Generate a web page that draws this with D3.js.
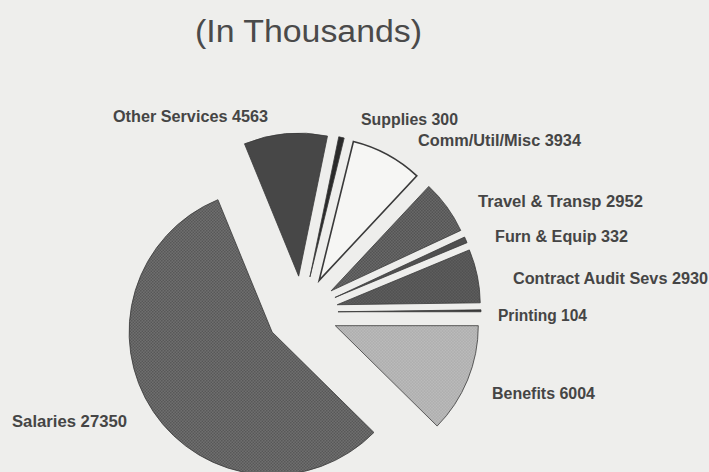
<!DOCTYPE html>
<html>
<head>
<meta charset="utf-8">
<script src="https://cdn.jsdelivr.net/npm/d3@7"></script>
<style>
  html, body { margin: 0; padding: 0; background: #eeeeec; }
  svg { display: block; }
</style>
</head>
<body>
<svg id="chart" width="709" height="472"></svg>
<script>
// ---- data (clockwise from 3 o'clock) ----
const categories = ["Benefits", "Salaries", "Other Services", "Supplies", "Comm/Util/Misc",
                    "Travel & Transp", "Furn & Equip", "Contract Audit Sevs", "Printing"];
const values = [6004, 27350, 4563, 300, 3934, 2952, 332, 2930, 104];
const title = "(In Thousands)";

// ---- styling / layout (kept separate from the data) ----
const fills = ["url(#pLight)", "url(#pSal)", "#474747", "#2a2a2a", "#f6f6f4",
               "url(#pMid)", "#505050", "url(#pMid2)", "#3a3a3a"];
const labelLayout = [ // x start, baseline, width
  [492, 399, 103], [12, 427, 115], [113, 122, 155], [361, 125, 97], [418, 146, 163],
  [478, 207, 165], [495, 242, 133], [513, 284, 195], [498, 321, 89]
];

const W = 709, H = 472;
const cx = 302, cy = 312, R = 143, explode = 36;

const svg = d3.select("#chart");
svg.append("rect").attr("width", W).attr("height", H).attr("fill", "#eeeeec");

// textures
const defs = svg.append("defs");
function dotPattern(id, bg, dot) {
  const p = defs.append("pattern").attr("id", id).attr("width", 3).attr("height", 3)
    .attr("patternUnits", "userSpaceOnUse");
  p.append("rect").attr("width", 3).attr("height", 3).attr("fill", bg);
  p.append("rect").attr("x", 0).attr("y", 0).attr("width", 1.5).attr("height", 1.5).attr("fill", dot);
  p.append("rect").attr("x", 1.5).attr("y", 1.5).attr("width", 1.5).attr("height", 1.5).attr("fill", dot);
}
dotPattern("pSal", "#727272", "#555555");
dotPattern("pLight", "#c4c4c4", "#a4a4a4");
dotPattern("pMid", "#6e6e6e", "#4e4e4e");
dotPattern("pMid2", "#666666", "#484848");

const pie = d3.pie().sort(null).value(d => d)
  .startAngle(Math.PI / 2).endAngle(Math.PI / 2 + 2 * Math.PI);
const arcs = pie(values);
const arc = d3.arc().innerRadius(0).outerRadius(R);

const g = svg.append("g").attr("transform", `translate(${cx},${cy})`);
g.selectAll("path").data(arcs).join("path")
  .attr("d", arc)
  .attr("transform", d => {
    const a = (d.startAngle + d.endAngle) / 2;
    return `translate(${explode * Math.sin(a)},${-explode * Math.cos(a)})`;
  })
  .attr("fill", (d, i) => fills[i])
  .attr("stroke", "#3a3a3a")
  .attr("stroke-width", (d, i) => categories[i] === "Comm/Util/Misc" ? 1.6 : 0.8)
  .attr("stroke-linejoin", "miter");

// title
svg.append("text")
  .attr("x", 195).attr("y", 42)
  .attr("textLength", 227).attr("lengthAdjust", "spacingAndGlyphs")
  .attr("font-family", "Liberation Sans, Arial, sans-serif")
  .attr("font-size", 31).attr("fill", "#4a4a4a")
  .text(title);

// labels
svg.append("g").selectAll("text").data(arcs).join("text")
  .attr("x", (d, i) => labelLayout[i][0])
  .attr("y", (d, i) => labelLayout[i][1])
  .attr("textLength", (d, i) => labelLayout[i][2])
  .attr("lengthAdjust", "spacingAndGlyphs")
  .attr("font-family", "Liberation Sans, Arial, sans-serif")
  .attr("font-weight", "bold")
  .attr("font-size", 16).attr("fill", "#454545")
  .text((d, i) => `${categories[i]} ${values[i]}`);
</script>
</body>
</html>
